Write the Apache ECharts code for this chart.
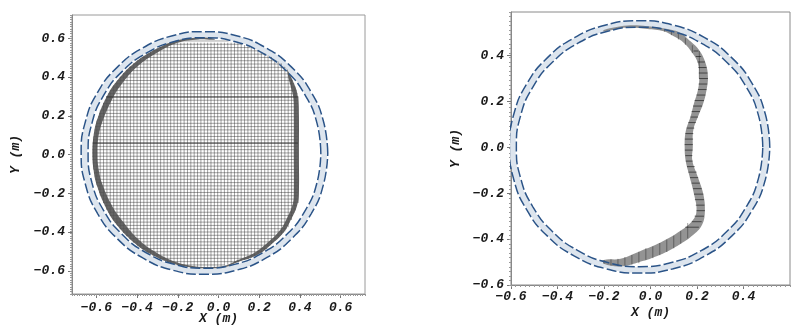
<!DOCTYPE html>
<html><head><meta charset="utf-8">
<style>html,body{margin:0;padding:0;background:#fff}#c{width:805px;height:325px;filter:blur(0.2px)}</style>
<script src="https://cdn.jsdelivr.net/npm/echarts@6/dist/echarts.min.js"></script>
</head><body><div id="c"></div>
<script>
const leftTicks = [-0.6,-0.4,-0.2,0,0.2,0.4,0.6];
const rightXTicks = [-0.6,-0.4,-0.2,0,0.2,0.4];
const rightYTicks = [-0.6,-0.4,-0.2,0,0.2,0.4];

const leftOuter = [[.537,.008],[.516,.170],[.456,.321],[.359,.451],[.234,.550],[.088,.613],[-.069,.634],[-.226,.613],[-.372,.550],[-.497,.451],[-.594,.321],[-.654,.170],[-.675,.008],[-.654,-.154],[-.594,-.305],[-.497,-.435],[-.372,-.534],[-.226,-.597],[-.069,-.618],[.088,-.597],[.234,-.534],[.359,-.435],[.456,-.305],[.516,-.154],[.537,.008]];
const leftInner = [[.503,.008],[.484,.162],[.426,.306],[.335,.429],[.217,.523],[.079,.583],[-.069,.603],[-.217,.583],[-.355,.523],[-.473,.429],[-.564,.306],[-.622,.162],[-.641,.008],[-.622,-.146],[-.564,-.290],[-.473,-.413],[-.355,-.507],[-.217,-.567],[-.069,-.587],[.079,-.567],[.217,-.507],[.335,-.413],[.426,-.290],[.484,-.146],[.503,.008]];
const rightOuter = [[.513,.002],[.494,.144],[.438,.277],[.349,.391],[.233,.478],[.098,.533],[-.047,.552],[-.192,.533],[-.327,.478],[-.443,.391],[-.532,.277],[-.588,.144],[-.607,.002],[-.588,-.140],[-.532,-.273],[-.443,-.387],[-.327,-.474],[-.192,-.529],[-.047,-.548],[.098,-.529],[.233,-.474],[.349,-.387],[.438,-.273],[.494,-.140],[.513,.002]];
const rightInner = [[.483,.002],[.465,.137],[.412,.263],[.328,.371],[.218,.454],[.090,.506],[-.047,.524],[-.184,.506],[-.312,.454],[-.422,.371],[-.506,.263],[-.559,.137],[-.577,.002],[-.559,-.133],[-.506,-.259],[-.422,-.367],[-.312,-.450],[-.184,-.502],[-.047,-.520],[.090,-.502],[.218,-.450],[.328,-.367],[.412,-.259],[.465,-.133],[.483,.002]];

// left mesh: rows as [y, xLeft, xRight]
const leftRows = [
[.586,-.201,.05],[.569,-.253,.115],[.552,-.293,.155],[.535,-.325,.20],[.518,-.353,.232],[.501,-.378,.262],[.484,-.400,.285],[.467,-.421,.305],[.45,-.440,.325],[.433,-.455,.338],[.416,-.470,.348],[.399,-.485,.357],[.382,-.498,.365],[.365,-.510,.372],[.348,-.521,.378],[.331,-.532,.384],[.314,-.542,.388],[.297,-.551,.39],
[.28,-.559,.39],[.263,-.567,.39],[.246,-.574,.39],[.229,-.581,.39],[.212,-.587,.39],[.195,-.592,.39],[.178,-.597,.39],[.161,-.601,.39],[.144,-.605,.39],[.127,-.609,.39],[.11,-.612,.39],[.093,-.614,.39],[.076,-.616,.39],[.059,-.618,.39],[.042,-.619,.39],[.025,-.620,.39],[.008,-.620,.39],
[-.009,-.620,.39],[-.026,-.619,.39],[-.043,-.618,.39],[-.06,-.616,.39],[-.077,-.614,.39],[-.094,-.612,.39],[-.111,-.609,.39],[-.128,-.605,.39],[-.145,-.601,.39],[-.162,-.597,.39],[-.179,-.592,.39],[-.196,-.587,.39],[-.213,-.581,.39],[-.23,-.574,.39],[-.247,-.567,.39],[-.264,-.559,.386],[-.281,-.551,.38],[-.298,-.542,.373],[-.315,-.532,.365],[-.332,-.521,.358],[-.349,-.510,.35],[-.366,-.498,.342],[-.383,-.485,.335],[-.4,-.470,.322],[-.417,-.455,.307],[-.434,-.440,.29],[-.451,-.421,.272],[-.468,-.400,.255],[-.485,-.378,.24],[-.502,-.353,.22],[-.519,-.325,.19],[-.536,-.293,.15],[-.553,-.253,.10],[-.57,-.201,.03]];
// left mesh: columns as [x, yBottom, yTop]
const leftCols = [
[-.6145,-.076,.092],[-.598,-.159,.175],[-.5815,-.211,.227],[-.565,-.251,.267],[-.5485,-.285,.301],[-.532,-.315,.331],[-.5155,-.341,.357],[-.499,-.364,.38],[-.4825,-.385,.401],[-.466,-.405,.421],[-.4495,-.423,.439],[-.433,-.439,.455],[-.4165,-.454,.47],[-.40,-.468,.484],[-.3835,-.481,.497],[-.367,-.493,.509],[-.3505,-.504,.52],[-.334,-.514,.53],[-.3175,-.523,.539],[-.301,-.532,.548],[-.2845,-.54,.556],[-.268,-.547,.563],[-.2515,-.554,.57],[-.235,-.56,.576],[-.2185,-.565,.577],[-.202,-.57,.577],[-.1855,-.574,.577],[-.169,-.577,.577],[-.1525,-.58,.577],[-.136,-.583,.577],[-.1195,-.585,.577],[-.103,-.586,.577],[-.0865,-.587,.577],[-.07,-.587,.577],
[-.0535,-.587,.577],[-.037,-.586,.577],[-.0205,-.585,.577],[-.004,-.582,.577],[.0125,-.578,.577],[.029,-.573,.577],[.0455,-.568,.577],[.062,-.563,.577],[.0785,-.558,.577],[.095,-.554,.574],[.1115,-.549,.57],[.128,-.544,.565],[.1445,-.539,.559],[.161,-.533,.553],[.1775,-.526,.546],[.194,-.519,.537],[.2105,-.507,.527],[.227,-.494,.521],[.2435,-.478,.511],[.26,-.462,.501],[.2765,-.445,.489],[.293,-.43,.48],[.3095,-.414,.47],[.326,-.397,.452],[.3425,-.375,.425],[.359,-.338,.39],[.3755,-.29,.345],[.392,-.25,.30]];
const leftDarkRows = [[.297,-.551,.39],[.059,-.618,.39]];

const leftBandOuter = [[-.02,.598],[-.10,.603],[-.2,.59],[-.3,.548],[-.4165,.47],[-.499,.38],[-.5485,.301],[-.598,.175],[-.6145,.092],[-.62,.008],[-.6145,-.076],[-.598,-.159],[-.5485,-.285],[-.499,-.364],[-.4165,-.454],[-.334,-.514],[-.235,-.56],[-.136,-.583],[-.07,-.587],[.03,-.582],[.10,-.554],[.19,-.519],[.255,-.468],[.322,-.4],[.358,-.332],[.386,-.264],[.395,-.2],[.395,0],[.395,.2],[.39,.297],[.378,.348],[.357,.399],[.335,.445]];
const leftBandInner = [[-.02,.592],[-.1,.594],[-.2,.577],[-.3,.527],[-.4,.453],[-.48,.357],[-.525,.28],[-.572,.165],[-.59,.09],[-.595,.008],[-.59,-.07],[-.572,-.15],[-.522,-.267],[-.472,-.343],[-.397,-.435],[-.322,-.496],[-.23,-.547],[-.136,-.574],[-.07,-.58],[.03,-.574],[.095,-.545],[.175,-.508],[.238,-.458],[.303,-.39],[.338,-.325],[.365,-.255],[.37,-.2],[.37,0],[.37,.2],[.368,.29],[.358,.34],[.345,.39],[.335,.445]];

const rightBandOuter = [[-.201,.512],[-.100,.531],[-.014,.528],[.072,.516],[.129,.499],[.172,.462],[.208,.425],[.237,.367],[.247,.308],[.241,.25],[.227,.192],[.204,.133],[.184,.075],[.182,.001],[.180,-.057],[.204,-.130],[.227,-.203],[.234,-.276],[.223,-.335],[.187,-.379],[.115,-.430],[.029,-.474],[-.057,-.503],[-.129,-.519],[-.201,-.507]];
const rightBandInner = [[-.201,.505],[-.100,.522],[-.014,.516],[.057,.506],[.100,.484],[.144,.455],[.180,.411],[.204,.367],[.210,.308],[.204,.25],[.187,.192],[.172,.133],[.151,.067],[.147,.001],[.151,-.057],[.165,-.115],[.187,-.203],[.198,-.276],[.180,-.320],[.129,-.364],[.043,-.415],[-.043,-.452],[-.129,-.486],[-.201,-.491]];
const rightRows = [[.42,.185,.206],[.396,.195,.218],[.372,.203,.234],[.348,.206,.241],[.324,.208,.245],[.30,.209,.247],[.276,.207,.244],[.252,.204,.241],[.228,.198,.236],[.204,.19,.23],[.18,.183,.222],[.156,.177,.213],[.132,.172,.204],[.108,.163,.195],[.084,.156,.188],[.06,.15,.184],[.036,.148,.183],[.012,.147,.182],[-.012,.148,.181],[-.036,.15,.18],[-.06,.152,.181],[-.084,.157,.19],[-.108,.163,.198],[-.132,.17,.205],[-.156,.177,.212],[-.18,.183,.22],[-.204,.187,.227],[-.228,.191,.23],[-.252,.195,.232],[-.276,.198,.234],[-.30,.19,.23],[-.324,.178,.22],[-.348,.15,.208]];
const rightCols = [[-.2,-.507,-.491],[-.17,-.515,-.488],[-.14,-.518,-.486],[-.11,-.515,-.478],[-.08,-.511,-.469],[-.05,-.505,-.455],[-.02,-.49,-.44],[.01,-.483,-.432],[.04,-.47,-.417],[.07,-.456,-.402],[.10,-.44,-.385],[.13,-.42,-.364],[.16,-.397,-.33],[.06,.504,.515],[.09,.489,.507],[.12,.47,.495],[.15,.447,.476],[.18,.411,.445],[.21,.30,.42]];

const fontFam = '"Liberation Mono"';
const rowsToLine = r => r.flatMap(([y,a,b]) => [[a,y],[b,y],['-','-']]);
const colsToLine = c => c.flatMap(([x,a,b]) => [[x,a],[x,b],['-','-']]);
const mid = (o,i) => o.map((p,k) => [(p[0]+i[k][0])/2,(p[1]+i[k][1])/2]);
const lbl = v => Number(v).toFixed(1).replace('-','\u2212');

function poly(idx, outer, inner, color, z){
  return {type:'custom', xAxisIndex:idx*2, yAxisIndex:idx*2, z, silent:true,
    data:[0], clip:true,
    renderItem:(p,api)=>({type:'polygon',
      shape:{points:outer.concat(inner.slice().reverse()).map(q=>api.coord(q)),smooth:0.4},
      style:{fill:color}})};
}
function ln(idx,data,color,width,z,extra){
  return Object.assign({type:'line',xAxisIndex:idx*2,yAxisIndex:idx*2,data,showSymbol:false,symbol:'none',
    silent:true,z,animation:false,lineStyle:{color,width}},extra||{});
}
function ring(idx,outer,inner){
  const dash = {color:'#2b5488',width:1.5,type:[10,3]};
  return [
    ln(idx,mid(outer,inner),'#dde5ee',5.5,2,{smooth:true}),
    ln(idx,outer,'#2b5488',1.5,6,{smooth:true,lineStyle:dash}),
    ln(idx,inner,'#2b5488',1.5,6,{smooth:true,lineStyle:dash})
  ];
}
const textBase = {fontFamily:fontFam,fontWeight:'bold',fontStyle:'italic',fontSize:13,color:'#1a1a1a'};
function mainX(idx,min,max,ticks,name,gap,margin){
  return {type:'value',gridIndex:idx,min,max,position:'bottom',name,nameLocation:'middle',nameGap:gap,nameMoveOverlap:false,
    nameTextStyle:textBase,
    axisLine:{show:true,onZero:false,lineStyle:{color:'#888'}},
    axisTick:{show:true,length:4,customValues:ticks,lineStyle:{color:'#777'}},
    axisLabel:Object.assign({customValues:ticks,formatter:lbl,margin,hideOverlap:false},textBase),
    splitLine:{show:false}};
}
function mainY(idx,min,max,ticks,name,gap){
  return {type:'value',gridIndex:idx,min,max,position:'left',name,nameLocation:'middle',nameGap:gap,nameMoveOverlap:false,
    nameTextStyle:textBase,
    axisLine:{show:true,onZero:false,lineStyle:{color:'#888'}},
    axisTick:{show:true,length:4,customValues:ticks,lineStyle:{color:'#777'}},
    axisLabel:Object.assign({customValues:ticks,formatter:lbl,margin:7,hideOverlap:false},textBase),
    splitLine:{show:false}};
}
function minor(idx,min,max,interval,pos){
  return {type:'value',gridIndex:idx,min,max,interval,position:pos,
    axisLine:{show:false,onZero:false},axisTick:{show:true,length:2,lineStyle:{color:'#999'}},
    axisLabel:{show:false},splitLine:{show:false}};
}

const option = {
  animation:false,backgroundColor:'#fff',
  grid:[
    {left:72,top:15,width:293,height:279,show:true,borderColor:'#9a9a9a',borderWidth:1,backgroundColor:'#fff',outerBoundsMode:'none'},
    {left:511,top:12,width:279,height:273,show:true,borderColor:'#8a8a8a',borderWidth:1,backgroundColor:'#fff',outerBoundsMode:'none'}
  ],
  xAxis:[
    mainX(0,-.72,.72,leftTicks,'X (m)',18,7),
    minor(0,-.72,.72,.012,'bottom'),
    mainX(1,-.6,.6,rightXTicks,'X (m)',21,5),
    minor(1,-.6,.6,.02,'bottom')
  ],
  yAxis:[
    mainY(0,-.72,.72,leftTicks,'Y (m)',50),
    minor(0,-.72,.72,.012,'left'),
    mainY(1,-.6,.59,rightYTicks,'Y (m)',49),
    minor(1,-.6,.6,.02,'left')
  ],
  series:[
    ...ring(0,leftOuter,leftInner),
    ln(0,rowsToLine(leftRows),'rgba(35,35,35,.7)',.6,3),
    ln(0,colsToLine(leftCols),'rgba(35,35,35,.7)',.6,3),
    ln(0,rowsToLine(leftDarkRows),'#333',.9,4),
    poly(0,leftBandOuter,leftBandInner,'rgba(80,80,80,.88)',4),
    ...ring(1,rightOuter,rightInner),
    poly(1,rightBandOuter,rightBandInner,'rgba(120,120,120,.8)',3),
    ln(1,rowsToLine(rightRows),'rgba(25,25,25,.8)',.8,4),
    ln(1,colsToLine(rightCols),'rgba(25,25,25,.6)',.7,4)
  ]
};
const chart = echarts.init(document.getElementById('c'),null,{renderer:'canvas'});
chart.setOption(option);
</script></body></html>
